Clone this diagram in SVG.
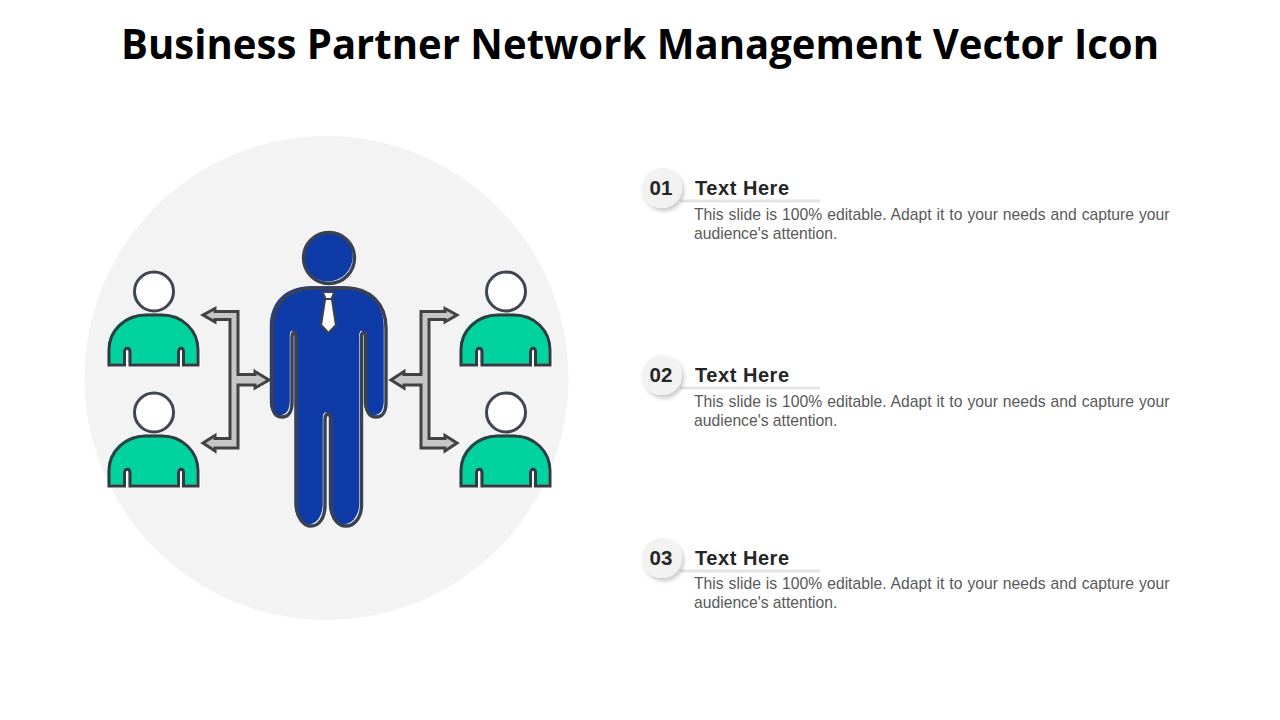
<svg xmlns="http://www.w3.org/2000/svg" width="1280" height="720" viewBox="0 0 1280 720">
<style>
.title{font-family:"Open Sans","Noto Sans",sans-serif;font-weight:700;font-size:42px;fill:#000}
.num{font-family:"Liberation Sans",Arial,sans-serif;font-weight:700;font-size:20.5px;fill:#262626;text-anchor:middle}
.head{font-family:"Liberation Sans",Arial,sans-serif;font-weight:700;font-size:20px;letter-spacing:.55px;fill:#262626}
.body{font-family:"Liberation Sans",Arial,sans-serif;font-size:15.7px;fill:#595959}
.line{stroke:#3a4150;stroke-width:3.4;fill:none;stroke-linejoin:round}
.arrow{fill:#c6c6c6;stroke:#424242;stroke-width:3;stroke-linejoin:miter}
.badge{fill:#f2f2f2;filter:url(#sh)}
.rule{stroke:#e4e4e4;stroke-width:3}
</style>
<defs>
<filter id="sh" x="-30%" y="-30%" width="170%" height="170%"><feDropShadow dx="2" dy="3" stdDeviation="2" flood-color="#000" flood-opacity=".22"/></filter>
<path id="man" d="M312 288C288 288 272 304 272 328V403C272 412 276 417 282 417C288 417 292 412 292 403V337C292 331 296.500 331 296.500 337V505C296.500 518 304 526 311 526C319 526 325 518 325 505V420C325 412 331 412 331 420V505C331 518 338 526 346 526C354 526 361.500 518 361.500 505V337C361.500 331 366 331 366 337V403C366 412 370 417 376 417C382 417 386 412 386 403V328C386 304 370 288 346 288Z"/>
<path id="torso" d="M109 365V350C109 330 126 315 146 315H162C182 315 198 330 198 350V365H183.500V352C183.500 347 178.500 347 178.500 352V365H130V352C130 347 124.500 347 124.500 352V365Z"/>
<g id="person">
<use href="#torso" fill="#fff" stroke="#fff" stroke-width="2" transform="translate(1.500,1)"/>
<use href="#torso" fill="#00d3a0" transform="translate(-1.200,-1.200)"/>
<use href="#torso" stroke="#333b40" stroke-width="3" fill="none"/>
<circle cx="154" cy="291.500" r="19.500" fill="#fff" stroke="#3f4552" stroke-width="3"/>
</g>
</defs>
<rect width="1280" height="720" fill="#fff"/>
<text class="title" x="640" y="59" text-anchor="middle" textLength="1038" lengthAdjust="spacingAndGlyphs">Business Partner Network Management Vector Icon</text>
<circle id="backdrop" cx="326.500" cy="378" r="242" fill="#f3f3f3"/>
<g id="connectors">
<polygon class="arrow" points="203,315 215,308.500 215,311.500 238,311.500 238,374.500 255,374.500 255,371.500 269,380 255,388 255,385 238,385 238,448 215,448 215,451 203,443 215,435.500 215,438.500 230,438.500 230,319.500 215,319.500 215,322"/>
<polygon class="arrow" points="457,315 445,308.500 445,311.500 421,311.500 421,374.500 404,374.500 404,371.500 391,380 404,388 404,385 421,385 421,448 445,448 445,451 457,443 445,435.500 445,438.500 429,438.500 429,319.500 445,319.500 445,322"/>
</g>
<g id="center-person">
<use href="#man" fill="#fff" stroke="#dcdcdc" stroke-width="1"/>
<use href="#man" fill="#0f3ba8" transform="translate(-2.200,-1.800)"/>
<use href="#man" class="line"/>
<circle cx="329.500" cy="258.500" r="25" fill="#fff"/>
<circle cx="327.800" cy="256.500" r="25" fill="#0f3ba8"/>
<circle cx="329" cy="258" r="25.500" class="line"/>
<polygon points="325,299 332,299 336,325 328.500,333 321,325" fill="#fff" stroke="#3a4150" stroke-width="2.200" stroke-linejoin="round"/>
<polygon points="322.500,292 334.500,292 331.500,299 325.500,299" fill="#fff" stroke="#3a4150" stroke-width="2.200" stroke-linejoin="round"/>
</g>
<g id="partner-1"><use href="#person"/></g>
<g id="partner-2"><use href="#person" y="121"/></g>
<g id="partner-3"><use href="#person" x="352"/></g>
<g id="partner-4"><use href="#person" x="352" y="121"/></g>
<g id="item-1">
<line class="rule" x1="680" y1="201" x2="820" y2="201"/>
<circle class="badge" cx="662" cy="188" r="20"/>
<text class="num" x="661" y="195">01</text>
<text class="head" x="695" y="195">Text Here</text>
<text class="body" x="694" y="219.500" word-spacing="0.6">This slide is 100% editable. Adapt it to your needs and capture your</text>
<text class="body" x="694" y="239">audience's attention.</text>
</g>
<g id="item-2">
<line class="rule" x1="680" y1="388" x2="820" y2="388"/>
<circle class="badge" cx="662" cy="375" r="20"/>
<text class="num" x="661" y="382">02</text>
<text class="head" x="695" y="382">Text Here</text>
<text class="body" x="694" y="406.500" word-spacing="0.6">This slide is 100% editable. Adapt it to your needs and capture your</text>
<text class="body" x="694" y="426">audience's attention.</text>
</g>
<g id="item-3">
<line class="rule" x1="680" y1="571" x2="820" y2="571"/>
<circle class="badge" cx="662" cy="558" r="20"/>
<text class="num" x="661" y="565">03</text>
<text class="head" x="695" y="565">Text Here</text>
<text class="body" x="694" y="588.500" word-spacing="0.6">This slide is 100% editable. Adapt it to your needs and capture your</text>
<text class="body" x="694" y="608">audience's attention.</text>
</g>
</svg>
